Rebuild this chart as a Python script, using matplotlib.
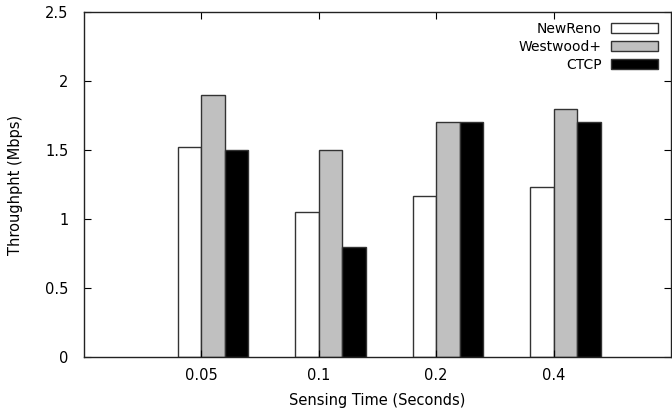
import numpy as np
import matplotlib.pyplot as plt

categories = ["0.05", "0.1", "0.2", "0.4"]
newreno    = [1.52, 1.05, 1.17, 1.23]
westwood   = [1.90, 1.50, 1.70, 1.80]
ctcp       = [1.50, 0.80, 1.70, 1.70]

x = np.arange(len(categories))
w = 0.2

fig, ax = plt.subplots(figsize=(6.72, 4.17), dpi=100)
plt.subplots_adjust(left=0.125, right=0.9985, bottom=0.144, top=0.971)

ax.bar(x - w/2, newreno,  w, color="white",   edgecolor="#333333", lw=1.0, label="NewReno")
ax.bar(x + w/2, westwood, w, color="#c0c0c0", edgecolor="#333333", lw=1.0, label="Westwood+")
ax.bar(x + 3*w/2, ctcp,   w, color="black",   edgecolor="#333333", lw=1.0, label="CTCP")

ax.set_xlim(-1, 4)
ax.set_ylim(0, 2.5)
ax.set_xticks(x)
ax.set_xticklabels(categories)
ax.set_yticks([0, 0.5, 1, 1.5, 2, 2.5])
ax.set_yticklabels(["0", "0.5", "1", "1.5", "2", "2.5"])
ax.tick_params(direction="in", length=5, width=0.8, labelsize=10.5, top=True, right=True)
ax.tick_params(axis="x", pad=8)
ax.tick_params(axis="y", pad=11)
for s in ax.spines.values():
    s.set_linewidth(1.0)
    s.set_color("#222222")

ax.set_xlabel("Sensing Time (Seconds)", fontsize=10.5, labelpad=7)
ax.set_ylabel("Throughpht (Mbps)", fontsize=10.5, labelpad=16)

ax.legend(loc="upper right", bbox_to_anchor=(0.9915, 0.994), frameon=False, fontsize=10,
          markerfirst=False, handlelength=3.4, handleheight=0.7, labelspacing=0.3,
          handletextpad=0.7, borderaxespad=0.25, borderpad=0.3)

plt.savefig("out.png", dpi=100)
plt.close()
